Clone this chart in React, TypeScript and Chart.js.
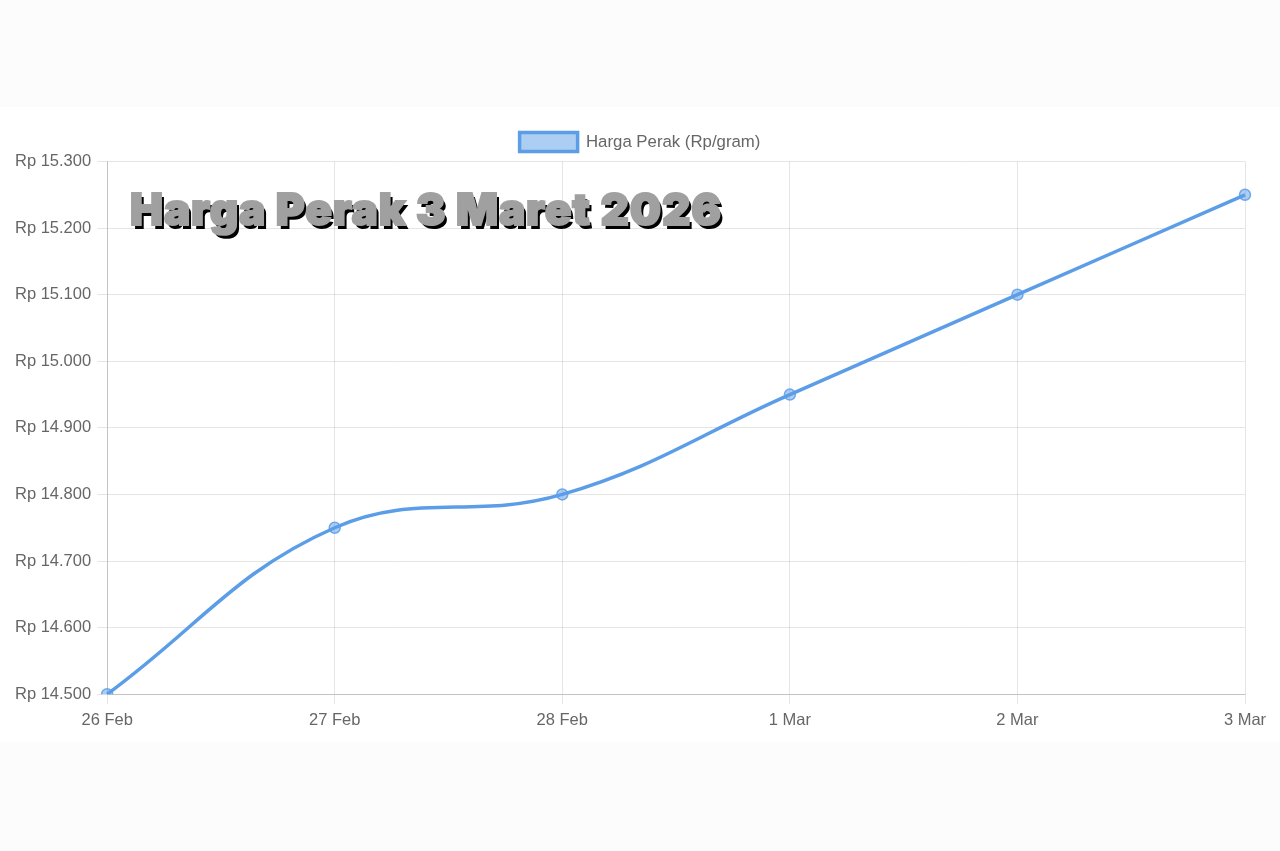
import React, { useEffect, useRef } from "react";
import { Chart, registerables } from "chart.js";

Chart.register(...registerables);

const categories = ["26 Feb", "27 Feb", "28 Feb", "1 Mar", "2 Mar", "3 Mar"];
const hargaPerak = [14500, 14750, 14800, 14950, 15100, 15250];
const seriesLabel = "Harga Perak (Rp/gram)";
const yMin = 14500;
const yMax = 15300;
const yStep = 100;
const titleText = "Harga Perak 3 Maret 2026";

function formatRp(v: number): string {
  const s = Math.round(v).toString().replace(/\B(?=(\d{3})+(?!\d))/g, ".");
  return "Rp " + s;
}

// centre the legend on the full canvas width rather than on the padded box
const legendCenter = {
  id: "legendCenter",
  beforeDraw(chart: any) {
    const lg = chart.legend;
    if (!lg) return;
    const target = chart.width / 2;
    const cur = (lg.left + lg.right) / 2;
    const d = target - cur;
    if (Math.abs(d) > 0.01) {
      lg.left += d;
      lg.right += d;
    }
  },
};

export default function App() {
  const ref = useRef<HTMLCanvasElement | null>(null);

  useEffect(() => {
    if (!ref.current) return;
    const font = { family: "'Liberation Sans', Arial, Helvetica, sans-serif", size: 16.5 };
    const chart = new Chart(ref.current, {
      type: "line",
      data: {
        labels: categories,
        datasets: [
          {
            label: seriesLabel,
            data: hargaPerak,
            borderColor: "rgb(92,157,232)",
            backgroundColor: "rgba(92,157,232,0.5)",
            borderWidth: 3.5,
            tension: 0.4,
            fill: false,
            pointRadius: 5.5,
            pointBackgroundColor: "rgba(92,157,232,0.5)",
            pointBorderColor: "rgba(92,157,232,0.85)",
            pointBorderWidth: 1.5,
          },
        ],
      },
      options: {
        animation: false,
        responsive: false,
        maintainAspectRatio: false,
        layout: { padding: { top: 11, left: 9, right: 35, bottom: 6 } },
        plugins: {
          legend: {
            display: true,
            position: "top",
            labels: {
              color: "#666",
              font: { ...font, size: 16.8 },
              boxWidth: 58,
              boxHeight: 19,
              padding: 14.5,
            },
          },
          tooltip: { enabled: false },
        },
        scales: {
          x: {
            grid: { color: "rgba(0,0,0,0.1)", tickLength: 10, lineWidth: 1 },
            border: { color: "rgba(0,0,0,0.15)" },
            ticks: { color: "#666", font, padding: 6, maxRotation: 0 },
          },
          y: {
            min: yMin,
            max: yMax,
            grid: { color: "rgba(0,0,0,0.1)", tickLength: 10, lineWidth: 1 },
            border: { color: "rgba(0,0,0,0.15)" },
            ticks: {
              color: "#666",
              font,
              padding: 6,
              stepSize: yStep,
              callback: (v: any) => formatRp(Number(v)),
            },
          },
        },
      },
      plugins: [legendCenter],
    });
    return () => chart.destroy();
  }, []);

  return (
    <div
      style={{
        position: "fixed",
        left: 0,
        top: 0,
        width: 1280,
        height: 851,
        background: "#fcfcfc",
        overflow: "hidden",
      }}
    >
      <div
        style={{
          position: "absolute",
          left: 0,
          top: 107,
          width: 1280,
          height: 635,
          background: "#ffffff",
        }}
      >
        <canvas ref={ref} width={1280} height={635} style={{ display: "block" }} />
      </div>
      <div
        style={{
          position: "absolute",
          left: 130,
          top: 181,
          fontFamily: "Inter, 'DejaVu Sans', sans-serif",
          fontWeight: 900,
          fontSize: 44,
          lineHeight: "56px",
          color: "#a0a0a0",
          WebkitTextStroke: "2px #a0a0a0",
          textShadow: "3px 4px 0 #000",
          whiteSpace: "nowrap",
          letterSpacing: "0.9px",
        }}
      >
        {titleText}
      </div>
    </div>
  );
}
